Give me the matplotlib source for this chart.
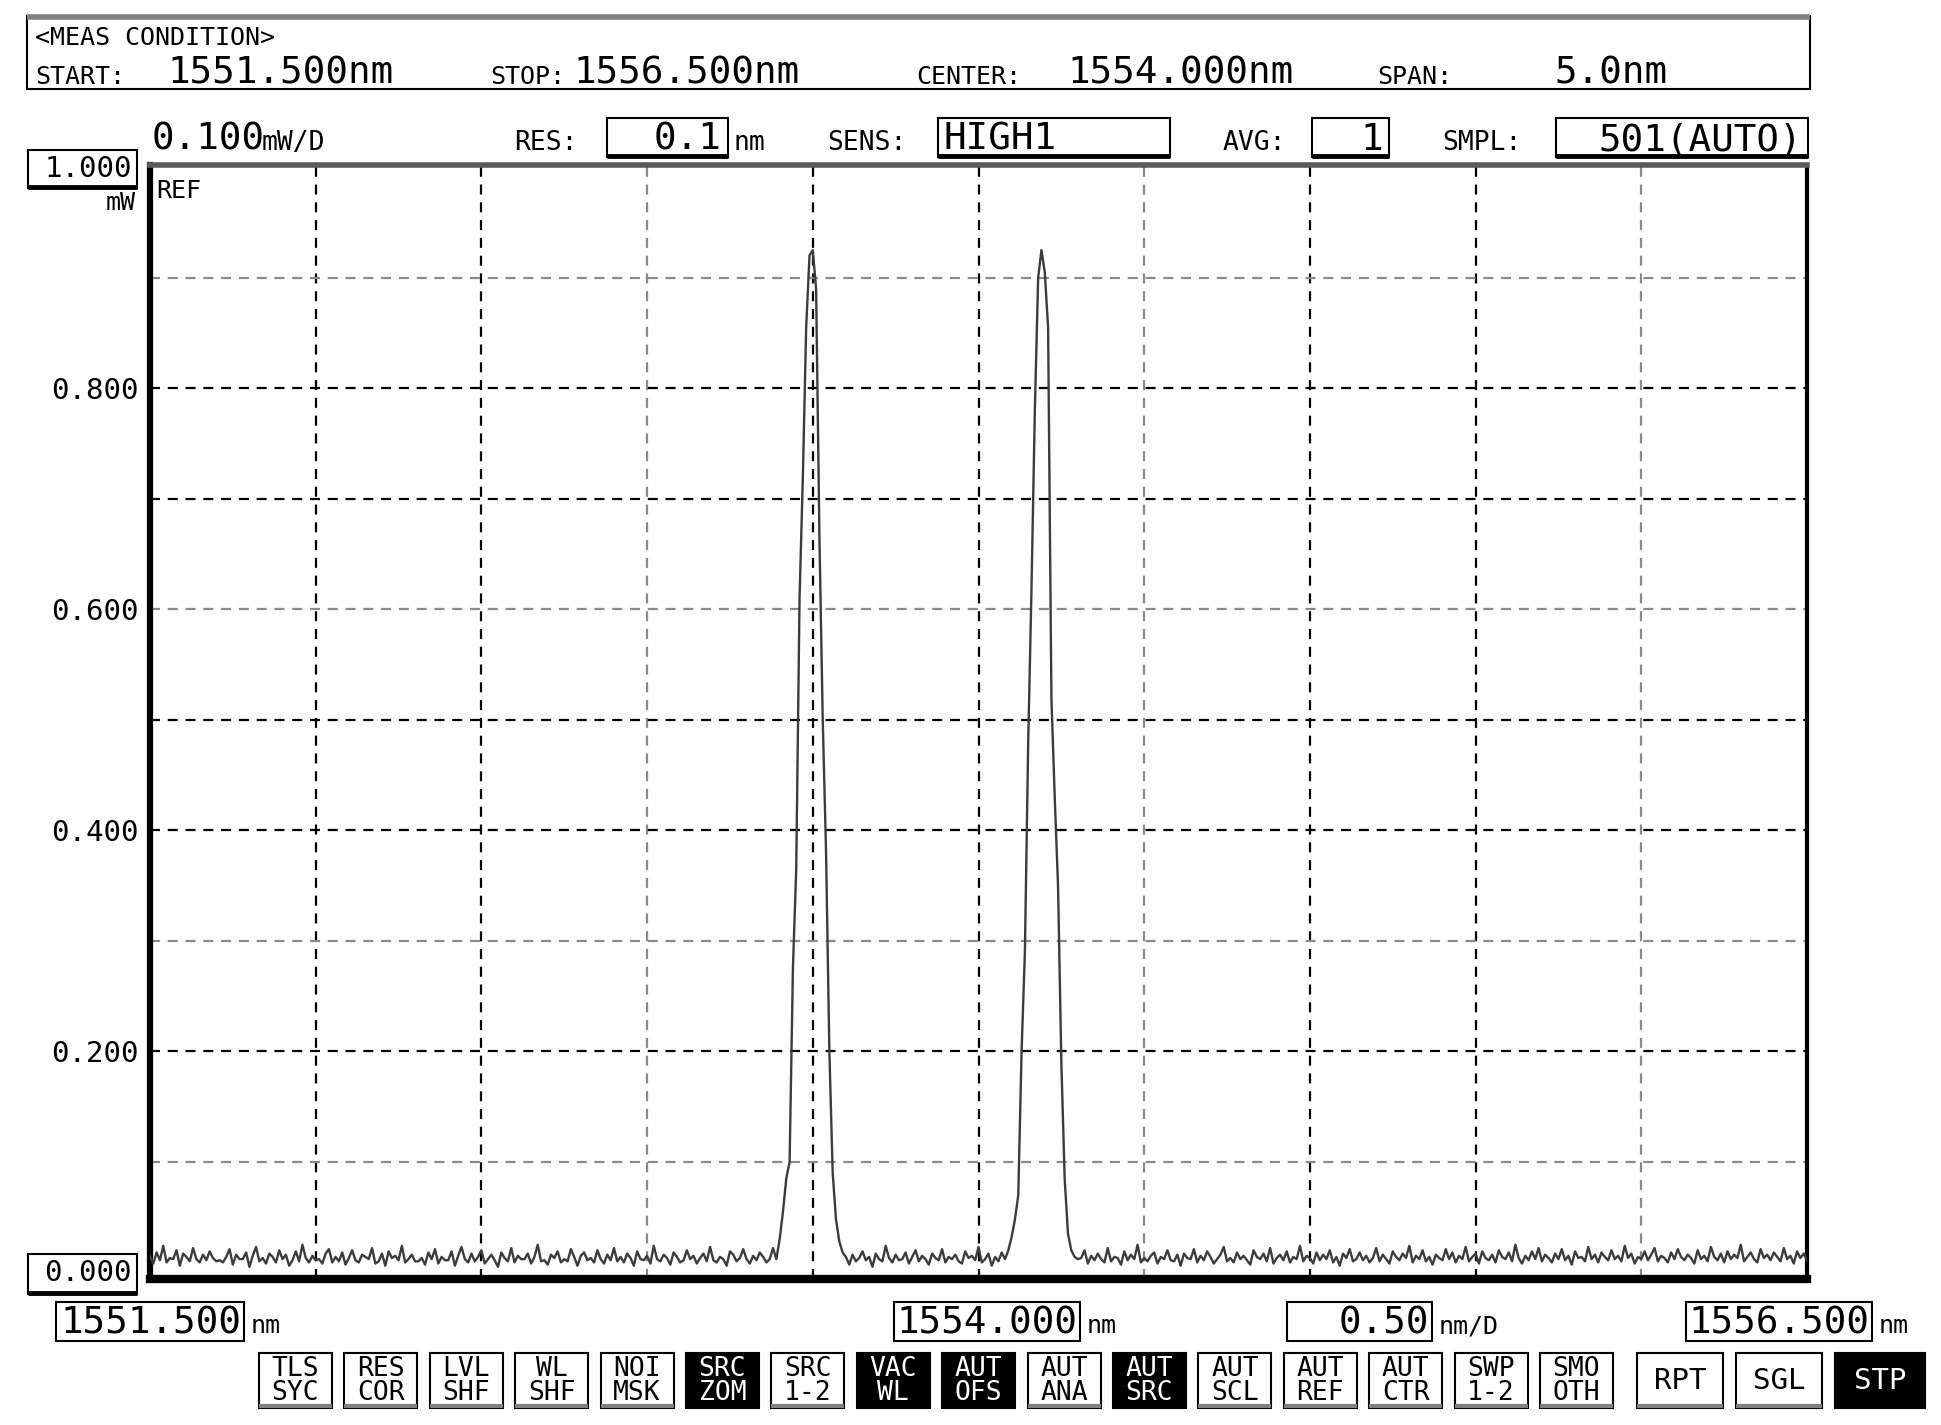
import numpy as np
import matplotlib.pyplot as plt
from matplotlib.patches import Rectangle
from matplotlib.lines import Line2D

W, H = 1941, 1425
MONO = 'DejaVu Sans Mono'

# sweep settings (SMPL 501 points)
start_nm = 1551.5
stop_nm = 1556.5
n_samples = 501

# the two laser lines in uW (one value per 0.01 nm sample)
peak1_start = 189
peak1_uw = [12, 30, 55, 85, 100, 275, 365, 610, 720, 855, 920, 925,
            890, 665, 500, 380, 200, 90, 48, 28, 18, 14]
peak2_start = 258
peak2_uw = [12, 20, 32, 48, 70, 200, 290, 480, 620, 780, 900, 925,
            905, 855, 520, 430, 350, 190, 85, 35, 20, 14]

# noise floor samples (uW), left to right, everything outside the peaks
noise_uw = [
    15, 8, 18, 11, 24, 9, 13, 12, 20, 6, 17, 14, 10, 22, 12, 9, 16, 11, 19, 13,
    10, 11, 9, 14, 21, 7, 16, 12, 12, 18, 5, 15, 23, 10, 13, 8, 17, 14, 9, 20,
    12, 16, 6, 11, 19, 10, 25, 13, 9, 15, 11, 12, 8, 17, 21, 9, 14, 10, 18, 7,
    13, 20, 11, 9, 16, 14, 12, 22, 8, 10, 17, 6, 19, 13, 15, 11, 24, 9, 12, 16,
    10, 10, 13, 7, 18, 12, 21, 8, 14, 11, 11, 19, 6, 15, 23, 12, 9, 17, 10, 14,
    20, 8, 12, 16, 11, 5, 18, 13, 10, 22, 9, 15, 12, 12, 17, 8, 14, 25, 10, 11,
    7, 16, 13, 19, 9, 12, 10, 21, 14, 6, 15, 18, 11, 13, 9, 20, 12, 8, 16, 11,
    22, 10, 14, 9, 17, 13, 6, 19, 12, 11, 15, 8, 24, 12, 10, 16, 13, 7, 18, 14,
    9, 11, 20, 12, 15, 8, 13, 17, 10, 23, 11, 9, 14, 12, 6, 19, 16, 10, 13, 21,
    12, 8, 15, 11, 18, 14, 9, 12, 22, 7, 16, 10, 13, 19, 11, 14, 5, 17, 12, 10,
    24, 13, 9, 16, 11, 12, 18, 8, 14, 20, 10, 15, 12, 7, 17, 13, 11, 21, 9, 14,
    12, 16, 10, 8, 19, 13, 15, 11, 23, 9, 12, 17, 6, 14, 10, 18, 12, 13, 20, 8,
    15, 11, 17, 12, 9, 22, 10, 14, 13, 7, 19, 11, 16, 12, 25, 9, 13, 10, 15, 18,
    8, 14, 12, 20, 11, 10, 16, 6, 17, 13, 12, 21, 9, 15, 11, 19, 14, 8, 12, 16,
    23, 10, 13, 9, 18, 12, 15, 11, 7, 20, 14, 12, 17, 10, 22, 8, 13, 16, 11, 19,
    9, 14, 12, 24, 10, 15, 13, 8, 18, 11, 16, 12, 20, 9, 14, 6, 17, 13, 21, 10,
    12, 18, 11, 15, 9, 13, 22, 10, 16, 12, 8, 19, 14, 11, 17, 13, 24, 9, 15, 12,
    20, 10, 14, 7, 16, 13, 11, 21, 12, 18, 9, 15, 12, 23, 10, 14, 17, 8, 19, 13,
    11, 16, 9, 20, 14, 12, 18, 10, 25, 13, 8, 15, 11, 19, 12, 22, 10, 16, 13, 9,
    17, 12, 21, 11, 15, 7, 19, 13, 14, 10, 23, 12, 16, 9, 18, 14, 11, 20, 12, 15,
    10, 24, 13, 17, 8, 14, 12, 19, 11, 16, 22, 10, 15, 13, 9, 18, 12, 21, 14, 11,
    16, 13, 8, 20, 12, 15, 10, 23, 14, 11, 17, 9, 19, 12, 16, 13, 25, 10, 14, 18,
    12, 9, 21, 13, 16, 11, 18, 14, 10, 22, 12, 15, 8, 19, 13, 17, 11, 24, 10, 16,
    14, 20, 11, 13, 9, 18, 12, 23, 15, 10, 17, 13, 21, 11, 16, 9, 19, 14, 12, 15,
]

y_labels = ['0.200', '0.400', '0.600', '0.800']
y_label_vals = [0.2, 0.4, 0.6, 0.8]

header_items = [('START:', '1551.500nm', 35, 167), ('STOP:', '1556.500nm', 490, 573),
                ('CENTER:', '1554.000nm', 916, 1067), ('SPAN:', '5.0nm', 1377, 1554)]

buttons = [('TLS\nSYC', 0), ('RES\nCOR', 0), ('LVL\nSHF', 0), ('WL\nSHF', 0),
           ('NOI\nMSK', 0), ('SRC\nZOM', 1), ('SRC\n1-2', 0), ('VAC\nWL', 1),
           ('AUT\nOFS', 1), ('AUT\nANA', 0), ('AUT\nSRC', 1), ('AUT\nSCL', 0),
           ('AUT\nREF', 0), ('AUT\nCTR', 0), ('SWP\n1-2', 0), ('SMO\nOTH', 0)]
big_buttons = [('RPT', 1637, 1723, 0), ('SGL', 1736, 1822, 0), ('STP', 1835, 1925, 1)]

# build the trace
wl = np.linspace(start_nm, stop_nm, n_samples)
trace = np.zeros(n_samples)
in_peak = np.zeros(n_samples, dtype=bool)
for s, vals in [(peak1_start, peak1_uw), (peak2_start, peak2_uw)]:
    trace[s:s + len(vals)] = vals
    in_peak[s:s + len(vals)] = True
rest = np.where(~in_peak)[0]
trace[rest] = noise_uw[:len(rest)]
trace = trace / 1000.0  # mW


def fx(x):
    return x / W


def fy(y):
    return 1 - y / H


fig = plt.figure(figsize=(W / 100, H / 100), dpi=100)
fig.patch.set_facecolor('white')


def frect(x0, y0, x1, y1, fc='white', ec='black', lw=1.5, shadow=True, z=1):
    fig.add_artist(Rectangle((fx(x0), fy(y1)), (x1 - x0) / W, (y1 - y0) / H,
                             transform=fig.transFigure, fc=fc, ec=ec, lw=lw, zorder=z))
    if shadow:
        fig.add_artist(Line2D([fx(x0), fx(x1)], [fy(y1 - 1), fy(y1 - 1)],
                              transform=fig.transFigure, color='black', lw=3.5,
                              solid_capstyle='butt', zorder=z + 0.1))


def gray_foot(x0, x1, y):
    fig.add_artist(Line2D([fx(x0), fx(x1)], [fy(y), fy(y)], transform=fig.transFigure,
                          color='#808080', lw=3, solid_capstyle='butt'))


def ftext(x, y, s, size=19, ha='left', va='baseline', color='black', **kw):
    fig.text(fx(x), fy(y), s, fontsize=size, ha=ha, va=va, color=color,
             family=MONO, **kw)


# header box
frect(27, 16, 1810, 89, shadow=False)
fig.add_artist(Line2D([fx(27), fx(1810)], [fy(17), fy(17)], transform=fig.transFigure,
                      color='#808080', lw=4, solid_capstyle='butt'))
ftext(35, 45, '<MEAS CONDITION>', size=18)
for lab, val, xl, xv in header_items:
    ftext(xl, 84, lab, size=18)
    ftext(xv, 84, val, size=27)

# settings row
ftext(152, 150, '0.100', size=27)
ftext(262, 150, 'mW/D', size=19)
ftext(514, 150, 'RES:', size=19)
frect(607, 118, 728, 157)
ftext(722, 150, '0.1', size=27, ha='right')
ftext(734, 150, 'nm', size=19)
ftext(827, 150, 'SENS:', size=19)
frect(938, 118, 1170, 157)
ftext(943, 150, 'HIGH1', size=27)
ftext(1223, 150, 'AVG:', size=19)
frect(1312, 118, 1389, 157)
ftext(1383, 150, '1', size=27, ha='right')
ftext(1442, 150, 'SMPL:', size=19)
frect(1556, 118, 1808, 157)
ftext(1802, 150, '501(AUTO)', size=27, ha='right')

# main trace area
ax = fig.add_axes([fx(150), fy(1279), (1807 - 150) / W, (1279 - 165) / H])
ax.set_xlim(start_nm, stop_nm)
ax.set_ylim(-0.006, 1.002)

xgrid = np.arange(start_nm + 0.5, stop_nm, 0.5)
for i, xv in enumerate(xgrid):
    c = '#8a8a8a' if i % 3 == 2 else 'black'
    ax.axvline(xv, color=c, lw=1.6, ls=(0, (4.5, 3.5)), zorder=1)
ygrid = np.arange(1, 10) / 10
gray_rows = [0.1, 0.3, 0.6, 0.9]
for yv in ygrid:
    c = '#8a8a8a' if round(yv, 1) in gray_rows else 'black'
    ax.axhline(yv, color=c, lw=1.6, ls=(0, (4.5, 3.5)), zorder=1)

ax.plot(wl, trace, color='#3c3c3c', lw=1.7, zorder=3)

ax.set_xticks([])
ax.set_yticks(y_label_vals)
ax.set_yticklabels(y_labels, family=MONO, fontsize=21)
ax.tick_params(axis='y', length=0, pad=8)
for side, lw, c in [('left', 4.5, 'black'), ('bottom', 6, 'black'),
                    ('right', 3, 'black'), ('top', 4, '#5a5a5a')]:
    ax.spines[side].set_linewidth(lw)
    ax.spines[side].set_color(c)
ax.text(0.004, 0.987, 'REF', transform=ax.transAxes, ha='left', va='top',
        family=MONO, fontsize=18)

# level boxes
frect(28, 150, 137, 188)
ftext(132, 169, '1.000', size=21, ha='right', va='center')
ftext(136, 203, 'mW', size=18, ha='right', va='center')
frect(28, 1254, 137, 1294)
ftext(132, 1273, '0.000', size=21, ha='right', va='center')

# wavelength boxes
for x0, x1, val, unit in [(56, 244, '1551.500', 'nm'), (894, 1080, '1554.000', 'nm'),
                          (1287, 1432, '0.50', 'nm/D'), (1686, 1872, '1556.500', 'nm')]:
    frect(x0, 1302, x1, 1341, shadow=False)
    ftext(x1 - 3, 1333, val, size=27, ha='right')
    ftext(x1 + 7, 1333, unit, size=18)

# soft keys
for i, (lab, dark) in enumerate(buttons):
    x0 = 259 + i * 85.4
    x1 = x0 + 73
    frect(x0, 1353, x1, 1408, fc='black' if dark else 'white', shadow=False)
    if not dark:
        gray_foot(x0, x1, 1406)
    ftext((x0 + x1) / 2, 1381, lab, size=19, ha='center', va='center',
          color='white' if dark else 'black', linespacing=0.92)
for lab, x0, x1, dark in big_buttons:
    frect(x0, 1353, x1, 1408, fc='black' if dark else 'white', shadow=False)
    if not dark:
        gray_foot(x0, x1, 1406)
    ftext((x0 + x1) / 2, 1381, lab, size=21, ha='center', va='center',
          color='white' if dark else 'black')

fig.savefig('out.png', dpi=100, facecolor='white')
